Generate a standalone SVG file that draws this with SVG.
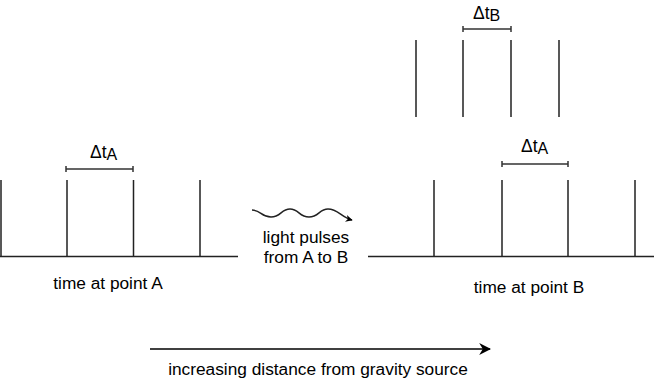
<svg xmlns="http://www.w3.org/2000/svg" width="654" height="382" viewBox="0 0 654 382">
<style>
text{font-family:"Liberation Sans",Arial,sans-serif;fill:#000}
.lbl{font-size:17.3px}
.dt{font-size:17.5px}
.sub{font-size:16px}
.ln{stroke:#222;stroke-width:1.5;fill:none}
.br{stroke:#333;stroke-width:1.5;fill:none}
</style>
<defs>
<marker id="ah" viewBox="0 0 10 10" refX="9" refY="5" markerWidth="7" markerHeight="7" orient="auto" markerUnits="userSpaceOnUse">
<path d="M0,0 L10,5 L0,10 L3,5 Z" fill="#000"/>
</marker>
<marker id="ah2" viewBox="0 0 10 10" refX="9" refY="5" markerWidth="12" markerHeight="12" orient="auto" markerUnits="userSpaceOnUse">
<path d="M0,0 L10,5 L0,10 L3,5 Z" fill="#000"/>
</marker>
</defs>
<g id="timelineA">
<path class="ln" d="M0,256.5 H238 M1,180 V256.5 M67,180 V256.5 M133.5,180 V256.5 M200,180 V256.5"/>
<path class="br" d="M66,169 H133 M66,166 V172 M133,166 V172"/>
<text class="dt" x="90" y="158">Δt<tspan class="sub" dy="2">A</tspan></text>
<text class="lbl" x="108" y="289" text-anchor="middle">time at point A</text>
</g>
<g id="timelineB">
<path class="ln" d="M368,256.5 H654 M434,180 V256.5 M502,180 V256.5 M568,180 V256.5 M635,180 V256.5"/>
<path class="br" d="M502,164 H568 M502,161 V167 M568,161 V167"/>
<text class="dt" x="521" y="152">Δt<tspan class="sub" dy="2">A</tspan></text>
<text class="lbl" x="529" y="293" text-anchor="middle">time at point B</text>
</g>
<g id="pulsesB">
<path class="ln" d="M416,40 V117 M463,40 V117 M511,40 V117 M559,40 V117"/>
<path class="br" d="M463,29 H511 M463,26 V32 M511,26 V32"/>
<text class="dt" x="473" y="19">Δt<tspan class="sub" dy="2">B</tspan></text>
</g>
<g id="connectors">
<path class="ln" d="M252,210 C261,210 261,217 271,217 C281,217 281,209 290,209 C299,209 299,217 309,217 C319,217 319,209 328,209 C338,209 341,217 352,220" marker-end="url(#ah)"/>
<path d="M150,349 H490" stroke="#000" stroke-width="1.5" fill="none" marker-end="url(#ah2)"/>
</g>
<g id="labels">
<text class="lbl" x="306" y="243" text-anchor="middle">light pulses</text>
<text class="lbl" x="306" y="263" text-anchor="middle">from A to B</text>
<text class="lbl" x="318" y="375" text-anchor="middle">increasing distance from gravity source</text>
</g>
</svg>
